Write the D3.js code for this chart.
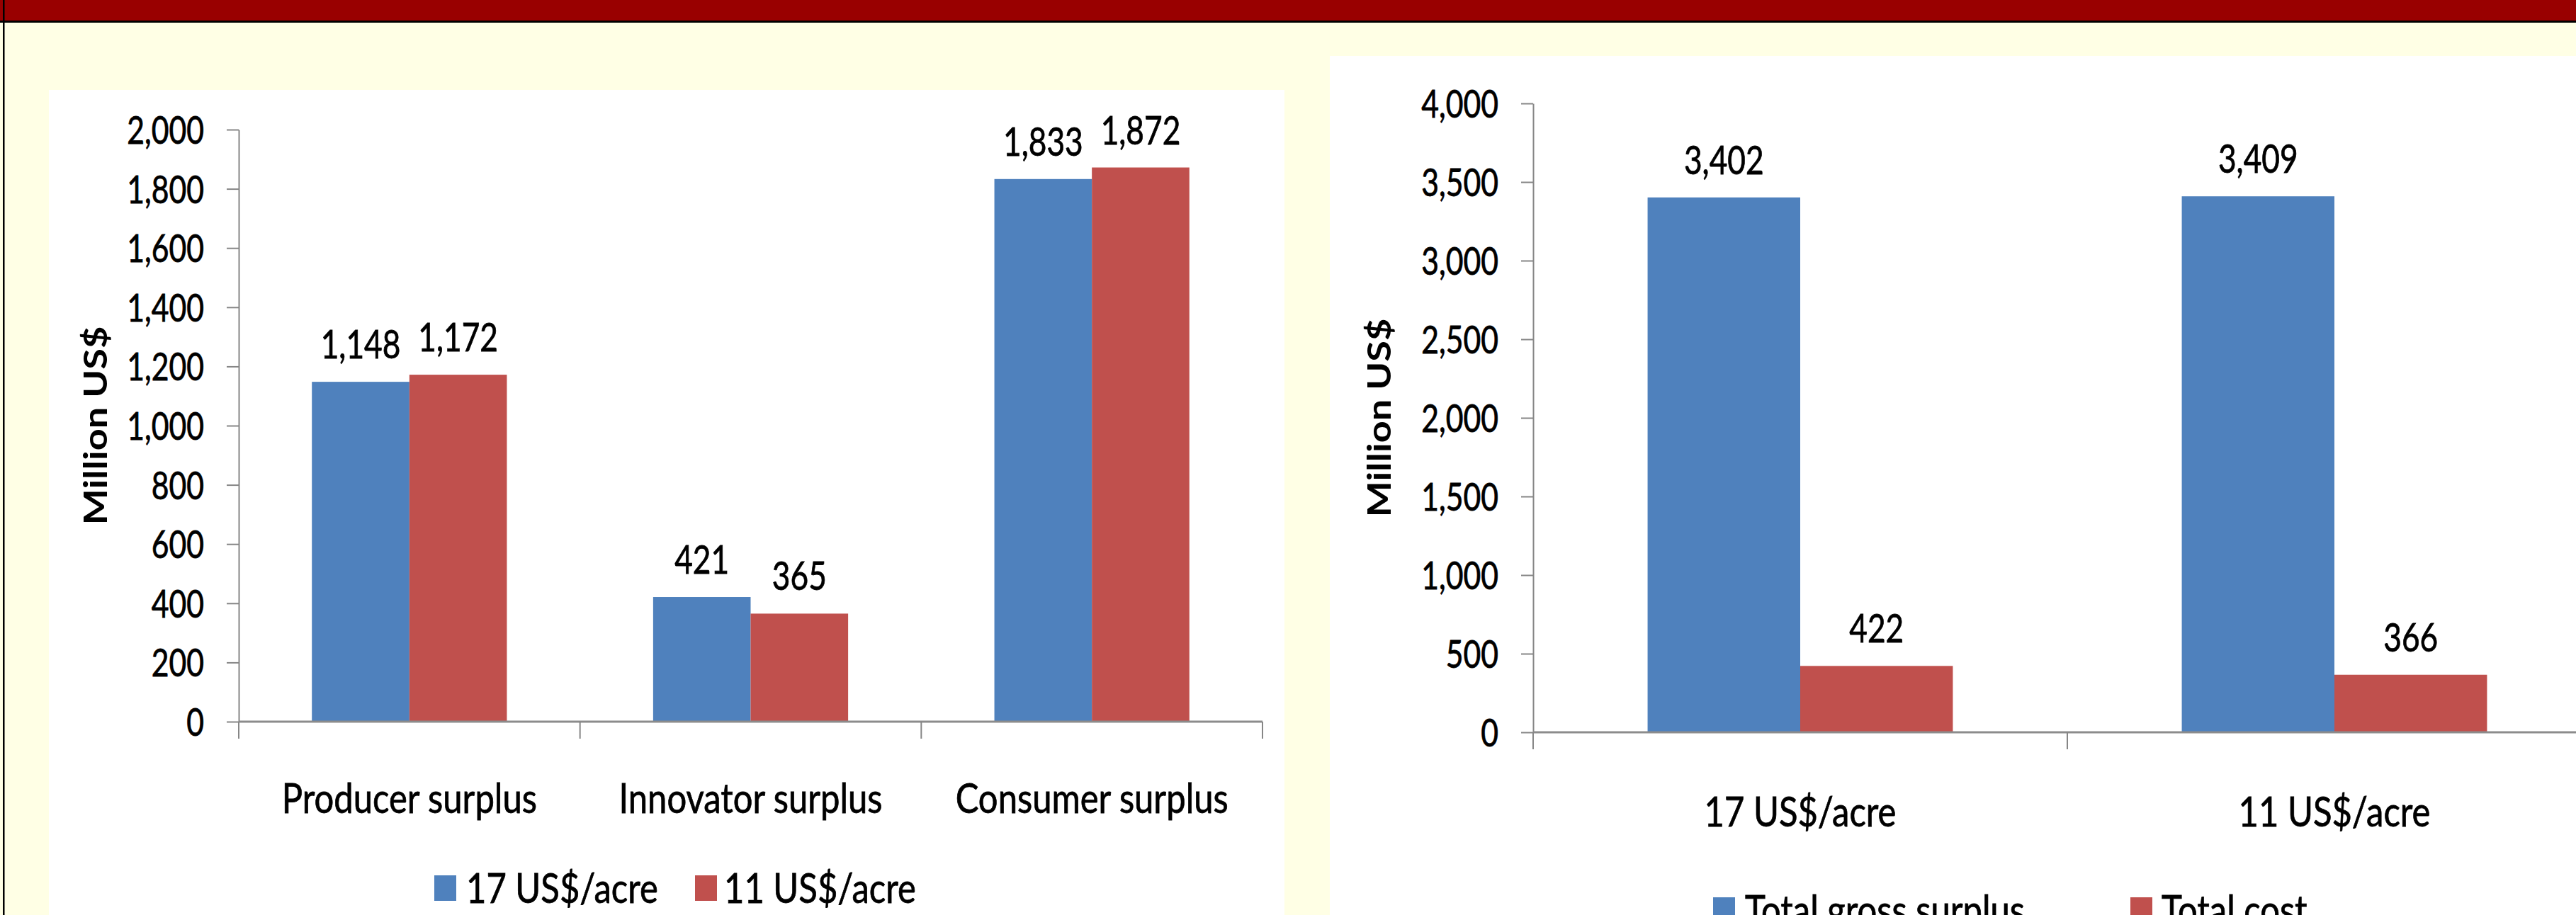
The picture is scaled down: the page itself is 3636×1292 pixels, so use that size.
<!DOCTYPE html>
<html><head><meta charset="utf-8">
<script src="https://cdn.jsdelivr.net/npm/d3@7/dist/d3.min.js"></script>
<style>body{margin:0;background:#fff}svg{display:block}</style>
</head><body>
<svg id="c" width="3636" height="1292"></svg>
<script>
// ---- data ----
const leftCategories = ["Producer surplus", "Innovator surplus", "Consumer surplus"];
const leftSeriesNames = ["17 US$/acre", "11 US$/acre"];
const leftValues17 = [1148, 421, 1833];
const leftValues11 = [1172, 365, 1872];
const leftTicks = [0, 200, 400, 600, 800, 1000, 1200, 1400, 1600, 1800, 2000];

const rightCategories = ["17 US$/acre", "11 US$/acre"];
const rightSeriesNames = ["Total gross surplus", "Total cost"];
const rightGross = [3402, 3409];
const rightCost = [422, 366];
const rightTicks = [0, 500, 1000, 1500, 2000, 2500, 3000, 3500, 4000];

const yTitle = "Million US$";
const colors = ["#4F81BD", "#C0504D"];

// ---- page frame ----
const svg = d3.select("#c");
const W = 3636, H = 1292;
const FONT = "Lato, 'Open Sans', sans-serif";
const SX = 0.79;      // horizontal squeeze of the original text
const fmt = d3.format(",");

svg.append("rect").attr("width", W).attr("height", H).attr("fill", "#FFFFE5");
svg.append("rect").attr("x", 0).attr("y", 0).attr("width", W).attr("height", 29).attr("fill", "#990000");
svg.append("rect").attr("x", 0).attr("y", 29).attr("width", W).attr("height", 3).attr("fill", "#000");
svg.append("rect").attr("x", 4).attr("y", 0).attr("width", 2.5).attr("height", H).attr("fill", "#000");

function text(g, x, y, s, o) {
  o = o || {};
  const t = g.append("text")
    .attr("transform", `translate(${x},${y}) scale(${o.sx || SX},1)` + (o.rot ? ` rotate(${o.rot})` : ""))
    .attr("text-anchor", o.anchor || "middle")
    .attr("font-family", FONT)
    .attr("font-size", o.size || 55)
    .attr("font-weight", o.weight || "normal")
    .attr("fill", "#000")
    .text(s);
  if (!o.weight) t.attr("stroke", "#000").attr("stroke-width", 0.8);
  return t;
}

function chart(cfg) {
  const g = svg.append("g");
  g.append("rect").attr("x", cfg.panel[0]).attr("y", cfg.panel[1])
    .attr("width", cfg.panel[2]).attr("height", cfg.panel[3]).attr("fill", "#fff");

  const y = d3.scaleLinear().domain([0, d3.max(cfg.ticks)]).range([cfg.yZero, cfg.yTop]);
  const x = d3.scaleBand().domain(cfg.categories).range([cfg.x0, cfg.x1]).padding(0);
  const step = x.bandwidth();
  const barW = step / 3.5;            // Excel gap width 150%
  const sub = d3.scaleBand().domain([0, 1]).range([0.75 * barW, 2.75 * barW]);

  // y axis
  const ax = g.append("g").attr("transform", `translate(${cfg.x0},0)`)
    .call(d3.axisLeft(y).tickValues(cfg.ticks).tickFormat(fmt).tickSize(17).tickSizeOuter(0).tickPadding(32));
  ax.select(".domain").attr("stroke", "#868686").attr("stroke-width", 2);
  ax.selectAll(".tick line").attr("stroke", "#868686").attr("stroke-width", 2);
  ax.selectAll(".tick text").each(function () {
    const t = d3.select(this);
    const tx = +t.attr("x");
    t.attr("x", 0).attr("dy", "0.36em").attr("transform", `translate(${tx},0) scale(${SX},1)`)
      .attr("font-family", FONT).attr("font-size", 54).attr("fill", "#000")
      .attr("stroke", "#000").attr("stroke-width", 0.8);
  });

  // bars
  cfg.series.forEach((vals, si) => {
    g.selectAll(null).data(cfg.categories).enter().append("rect")
      .attr("x", c => x(c) + sub(si))
      .attr("y", (c, i) => y(vals[i]))
      .attr("width", sub.bandwidth())
      .attr("height", (c, i) => y(0) - y(vals[i]))
      .attr("fill", colors[si]);
    cfg.categories.forEach((c, i) => {
      text(g, x(c) + sub(si) + sub.bandwidth() / 2, y(vals[i]) - 33, fmt(vals[i]), { size: 56 });
    });
  });

  // x axis line and category boundary ticks
  g.append("line").attr("x1", cfg.x0).attr("x2", cfg.x1).attr("y1", y(0)).attr("y2", y(0))
    .attr("stroke", "#8C8C8C").attr("stroke-width", 3);
  const edges = cfg.categories.map(c => x(c)).concat([cfg.x1]);
  g.selectAll(null).data(edges).enter().append("line")
    .attr("x1", d => d).attr("x2", d => d).attr("y1", y(0)).attr("y2", y(0) + 24)
    .attr("stroke", "#868686").attr("stroke-width", 2);

  // category labels
  cfg.categories.forEach(c => text(g, x(c) + step / 2, cfg.catBase, c, { size: 59, sx: 0.83 }));

  // y title
  text(g, cfg.titleX, (cfg.yTop + cfg.yZero) / 2, yTitle, { size: 54, weight: "bold", sx: 0.85, rot: -90 });

  // legend
  cfg.legend.forEach((L, i) => {
    g.append("rect").attr("x", L.sx).attr("y", cfg.legY).attr("width", 31).attr("height", 36).attr("fill", colors[i]);
    text(g, L.tx, cfg.legBase, cfg.seriesNames[i], { size: 59, anchor: "start", sx: 0.83 });
  });
}

chart({
  panel: [69, 127, 1744, H - 127],
  x0: 337, x1: 1782, yZero: 1019, yTop: 183,
  ticks: leftTicks, categories: leftCategories,
  series: [leftValues17, leftValues11], seriesNames: leftSeriesNames,
  catBase: 1148, titleX: 151,
  legY: 1236, legBase: 1275,
  legend: [{ sx: 613, tx: 658 }, { sx: 981, tx: 1022 }]
});

chart({
  panel: [1877, 79, W - 1877, H - 79],
  x0: 2164, x1: 3672, yZero: 1034, yTop: 146,
  ticks: rightTicks, categories: rightCategories,
  series: [rightGross, rightCost], seriesNames: rightSeriesNames,
  catBase: 1167, titleX: 1963,
  legY: 1267, legBase: 1306,
  legend: [{ sx: 2418, tx: 2463 }, { sx: 3007, tx: 3051 }]
});
</script>
</body></html>
